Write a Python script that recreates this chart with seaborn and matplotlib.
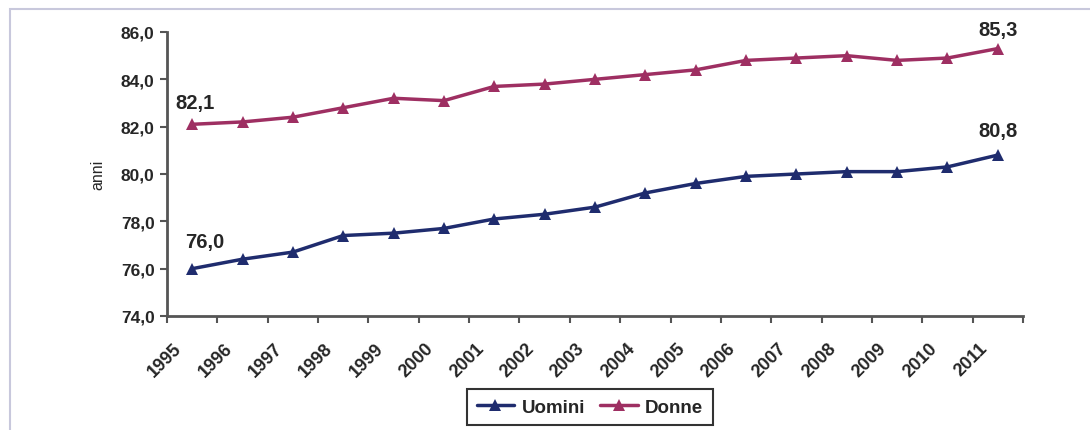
import numpy as np
import pandas as pd
import matplotlib
matplotlib.use("Agg")
import matplotlib.pyplot as plt
import matplotlib.transforms as mtrans
import seaborn as sns
from matplotlib.patches import Rectangle
from matplotlib.ticker import FixedLocator, FuncFormatter

anni = [str(y) for y in range(1995, 2012)]
uomini = [76.0, 76.4, 76.7, 77.4, 77.5, 77.7, 78.1, 78.3, 78.6, 79.2,
          79.6, 79.9, 80.0, 80.1, 80.1, 80.3, 80.8]
donne = [82.1, 82.2, 82.4, 82.8, 83.2, 83.1, 83.7, 83.8, 84.0, 84.2,
         84.4, 84.8, 84.9, 85.0, 84.8, 84.9, 85.3]

col_u = "#1f2c6e"
col_d = "#9e2f62"

sns.set_style("white")
plt.rcParams["font.family"] = ["Liberation Sans", "DejaVu Sans"]

def virgola(v):
    return f"{v:.1f}".replace(".", ",")

df = pd.DataFrame({"anno": anni * 2,
                   "valore": uomini + donne,
                   "serie": ["Uomini"] * len(anni) + ["Donne"] * len(anni)})
df["x"] = df.groupby("serie").cumcount()

fig = plt.figure(figsize=(10.9, 4.31), dpi=100)
ax = fig.add_axes([167 / 1090, 1 - 317 / 431, (1023 - 167) / 1090, (317 - 33) / 431])

sns.lineplot(data=df, x="x", y="valore", hue="serie", palette=[col_u, col_d],
             marker="^", markersize=9, markeredgewidth=0, linewidth=2.5, ax=ax)

n = len(anni)
ax.set_xlim(-0.5, n - 0.5)
ax.set_ylim(74, 86)
ax.set_yticks(np.arange(74, 86.1, 2))
ax.yaxis.set_major_formatter(FuncFormatter(lambda v, p: virgola(v)))

# ticks on category boundaries, labels at category centres
ax.xaxis.set_major_locator(FixedLocator(np.arange(-0.5, n, 1)))
ax.xaxis.set_major_formatter(FuncFormatter(lambda v, p: ""))
ax.set_xticks(np.arange(n), minor=True)
ax.set_xticklabels(anni, minor=True, rotation=45, ha="right", rotation_mode="anchor",
                   fontsize=13, fontweight="bold")
ax.tick_params(axis="x", which="minor", length=0, pad=17)
off = mtrans.ScaledTranslation(-19 / 100, 0, fig.dpi_scale_trans)
for lab in ax.get_xticklabels(minor=True):
    lab.set_transform(lab.get_transform() + off)

ax.tick_params(axis="both", which="major", direction="out", length=5, width=1.5,
               color="#555555", labelsize=12.5)
ax.tick_params(axis="y", pad=4)
for lab in ax.get_yticklabels():
    lab.set_fontweight("bold")
ax.tick_params(left=True, bottom=True)

for s in ["top", "right"]:
    ax.spines[s].set_visible(False)
for s in ["left", "bottom"]:
    ax.spines[s].set_color("#555555")
    ax.spines[s].set_linewidth(2)

ax.set_xlabel("")
ax.set_ylabel("anni", fontsize=11.5, labelpad=11)

# valori iniziali e finali
ax.text(0.25, uomini[0] + 1.15, virgola(uomini[0]), fontsize=14.5,
        fontweight="bold", ha="center", va="center")
ax.text(0.05, donne[0] + 0.9, virgola(donne[0]), fontsize=14.5,
        fontweight="bold", ha="center", va="center")
ax.text(n - 1, uomini[-1] + 1.05, virgola(uomini[-1]), fontsize=14.5,
        fontweight="bold", ha="center", va="center")
ax.text(n - 1, donne[-1] + 0.8, virgola(donne[-1]), fontsize=14.5,
        fontweight="bold", ha="center", va="center")

ax.legend_.remove()
h, l = ax.get_legend_handles_labels()
leg = fig.legend(h, l, loc="center", bbox_to_anchor=(590 / 1090, 1 - 408 / 431),
                 ncol=2, frameon=True, fancybox=False, edgecolor="black",
                 prop={"weight": "bold", "size": 13.5}, handlelength=2.0,
                 columnspacing=0.8, handletextpad=0.4, borderpad=0.5)
leg.get_frame().set_linewidth(1.5)

fig.patches.append(Rectangle((10 / 1090, -0.1), 1.2, 1 - 10 / 431 + 0.1,
                             transform=fig.transFigure, fill=False,
                             edgecolor="#c8c8dc", linewidth=1.5))

fig.savefig("out.png", dpi=100)
